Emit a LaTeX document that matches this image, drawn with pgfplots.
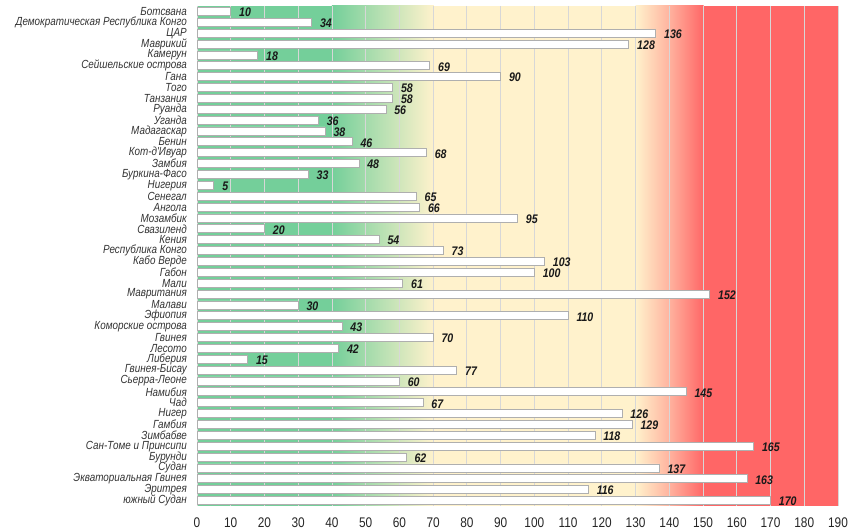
\documentclass[border=0pt]{standalone}
\usepackage{fontspec}
\setmainfont{Liberation Sans}
\newfontfamily\narrowfont{Liberation Sans}[FakeStretch=0.85]
\newfontfamily\labelfont{Liberation Sans}[FakeStretch=0.84]
\usepackage{pgfplots}
\usepackage{pgfplotstable}
\pgfplotsset{compat=1.18}
\definecolor{cgreen}{RGB}{116,207,154}
\definecolor{ccream}{RGB}{255,242,204}
\definecolor{csalmon}{RGB}{255,178,158}
\definecolor{cred}{RGB}{255,102,102}
\definecolor{gridgray}{RGB}{215,215,215}
\definecolor{bargray}{RGB}{175,175,175}
\pgfplotstableread[col sep=semicolon]{
idx;val;name
1;10;Ботсвана
2;34;Демократическая Республика Конго
3;136;ЦАР
4;128;Маврикий
5;18;Камерун
6;69;Сейшельские острова
7;90;Гана
8;58;Того
9;58;Танзания
10;56;Руанда
11;36;Уганда
12;38;Мадагаскар
13;46;Бенин
14;68;Кот-д'Ивуар
15;48;Замбия
16;33;Буркина-Фасо
17;5;Нигерия
18;65;Сенегал
19;66;Ангола
20;95;Мозамбик
21;20;Свазиленд
22;54;Кения
23;73;Республика Конго
24;103;Кабо Верде
25;100;Габон
26;61;Мали
27;152;Мавритания
28;30;Малави
29;110;Эфиопия
30;43;Коморские острова
31;70;Гвинея
32;42;Лесото
33;15;Либерия
34;77;Гвинея-Бисау
35;60;Сьерра-Леоне
36;145;Намибия
37;67;Чад
38;126;Нигер
39;129;Гамбия
40;118;Зимбабве
41;165;Сан-Томе и Принсипи
42;62;Бурунди
43;137;Судан
44;163;Экваториальная Гвинея
45;116;Эритрея
46;170;южный Судан
}\data
\begin{document}
\begin{tikzpicture}
\begin{axis}[
  at={(0,0)}, anchor=south west,
  scale only axis, width=641bp, height=500bp,
  set layers,
  xbar, bar width=8bp,
  xmin=0, xmax=190, ymin=0.5, ymax=46.5,
  y dir=reverse,
  ytick={1,...,46},
  yticklabels from table={\data}{name},
  xtick={0,10,...,190},
  xmajorgrids,
  grid style={color=gridgray, line width=0.8bp},
  axis line style={draw=none},
  major tick length=0pt,
  /pgf/number format/assume math mode=true,
  xticklabel style={font=\narrowfont\fontsize{14}{14}\selectfont, text=black!85, inner sep=0pt, anchor=north, yshift=-12bp},
  yticklabel style={font=\labelfont\itshape\fontsize{11.8}{11.8}\selectfont, text=black!80, inner sep=0pt, anchor=east, xshift=-10bp},
  point meta=x,
  nodes near coords,
  nodes near coords style={font=\narrowfont\bfseries\itshape\fontsize{12.5}{12.5}\selectfont, text=black!90, inner sep=0pt, anchor=west, xshift=8bp, yshift=-1bp},
  clip=false,
]
\begin{pgfonlayer}{axis background}
\fill[cgreen] (axis cs:0,0.5) rectangle (axis cs:40.2,46.5);
\shade[left color=cgreen, right color=ccream, shading=axis] (axis cs:40,0.5) rectangle (axis cs:70.2,46.5);
\fill[ccream] (axis cs:70,0.5) rectangle (axis cs:130.2,46.5);
\shade[left color=ccream, right color=csalmon, shading=axis] (axis cs:130,0.5) rectangle (axis cs:140.2,46.5);
\shade[left color=csalmon, right color=cred, shading=axis] (axis cs:140,0.5) rectangle (axis cs:150.2,46.5);
\fill[cred] (axis cs:150,0.5) rectangle (axis cs:190,46.5);
\end{pgfonlayer}
\addplot[fill=white, draw=bargray, line width=0.8bp] table[x=val, y=idx]{\data};
\end{axis}
\path (-197bp,-25bp) rectangle (653bp,506bp);
\end{tikzpicture}
\end{document}
